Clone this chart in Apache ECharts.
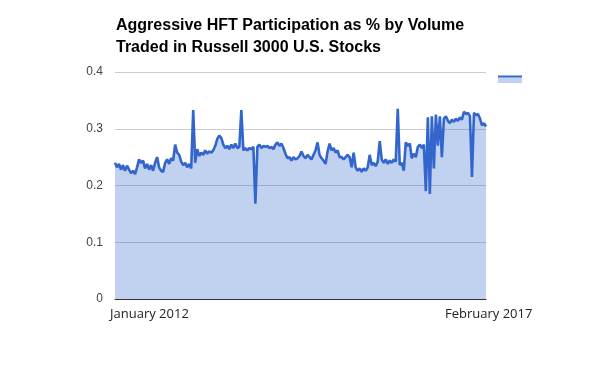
<!DOCTYPE html>
<html>
<head>
<meta charset="utf-8">
<script src="https://cdn.jsdelivr.net/npm/echarts@6/dist/echarts.min.js"></script>
<style>html,body{margin:0;padding:0;background:#fff}#c{width:600px;height:371px}</style>
</head>
<body>
<div id="c"></div>
<script>
var titleText = 'Aggressive HFT Participation as % by Volume\nTraded in Russell 3000 U.S. Stocks';
var xLabels = ['January 2012', 'February 2017'];
var yTicks = [0, 0.1, 0.2, 0.3, 0.4];
var participation = [
0.240,0.232,0.238,0.228,0.236,0.226,0.235,0.228,0.222,0.226,
0.220,0.232,0.246,0.240,0.244,0.230,0.238,0.228,0.236,0.226,
0.240,0.250,0.232,0.226,0.224,0.240,0.246,0.238,0.248,0.244,
0.272,0.258,0.254,0.242,0.236,0.240,0.232,0.238,0.230,0.333,
0.240,0.264,0.252,0.258,0.254,0.262,0.256,0.260,0.258,0.262,
0.270,0.282,0.288,0.284,0.272,0.266,0.270,0.264,0.272,0.266,
0.274,0.266,0.268,0.333,0.262,0.266,0.262,0.266,0.264,0.268,
0.168,0.268,0.272,0.266,0.270,0.268,0.270,0.266,0.268,0.264,
0.272,0.276,0.270,0.274,0.266,0.256,0.248,0.250,0.244,0.250,
0.246,0.248,0.252,0.260,0.252,0.248,0.254,0.250,0.246,0.254,
0.262,0.276,0.254,0.248,0.244,0.238,0.260,0.274,0.262,0.266,
0.258,0.262,0.250,0.250,0.246,0.250,0.254,0.250,0.232,0.258,
0.232,0.226,0.230,0.224,0.230,0.226,0.232,0.254,0.236,0.240,
0.234,0.242,0.278,0.246,0.240,0.246,0.238,0.244,0.240,0.246,
0.242,0.335,0.236,0.240,0.226,0.276,0.270,0.274,0.248,0.256,
0.250,0.268,0.272,0.266,0.272,0.190,0.320,0.185,0.322,0.230,
0.325,0.270,0.322,0.250,0.318,0.322,0.314,0.310,0.316,0.312,
0.318,0.314,0.320,0.316,0.330,0.326,0.328,0.322,0.215,0.328,
0.324,0.326,0.318,0.306,0.310,0.304
];
var categories = participation.map(function (v, i) { return i; });

var chart = echarts.init(document.getElementById('c'), null, {renderer: 'canvas'});
var option = {
  animation: false,
  backgroundColor: '#fff',
  title: {
    text: titleText,
    left: 116, top: 15, padding: 0,
    textStyle: {fontFamily: 'Liberation Sans, Arial, sans-serif', fontSize: 16, fontWeight: 'bold', color: '#000', lineHeight: 22}
  },
  grid: {left: 115, right: 114, top: 72, bottom: 72, containLabel: false},
  xAxis: {
    type: 'category', data: categories, boundaryGap: false,
    axisLine: {show: true, lineStyle: {color: '#333', width: 1}},
    axisTick: {show: false}, axisLabel: {show: false}, splitLine: {show: false}
  },
  yAxis: {
    type: 'value', min: yTicks[0], max: yTicks[yTicks.length - 1], interval: 0.1,
    axisLine: {show: false}, axisTick: {show: false},
    axisLabel: {margin: 12, color: '#444', fontFamily: 'Liberation Sans, Arial, sans-serif', fontSize: 12,
      formatter: function (v) { return String(Math.round(v * 10) / 10); }},
    splitLine: {lineStyle: {color: '#ccc', width: 1}}
  },
  series: [{
    type: 'line', data: participation, showSymbol: false, sampling: null,
    lineStyle: {color: '#3366cc', width: 2.6},
    itemStyle: {color: '#3366cc'},
    areaStyle: {color: '#3366cc', opacity: 0.3}
  }]
};
chart.setOption(option);

var p0 = chart.convertToPixel({gridIndex: 0}, [0, 0]);
var p1 = chart.convertToPixel({gridIndex: 0}, [participation.length - 1, 0]);
chart.setOption({
  graphic: [
    {type: 'text', left: p0[0] - 5, top: p0[1] + 9,
      style: {text: xLabels[0], fill: '#222', font: '13px "Open Sans", sans-serif'}},
    {type: 'text', left: p1[0] - 41, top: p1[1] + 9,
      style: {text: xLabels[1], fill: '#222', font: '13px "Open Sans", sans-serif'}},
    {type: 'rect', shape: {x: 498, y: 77.5, width: 24, height: 5.5}, style: {fill: '#c2d1f0'}},
    {type: 'rect', shape: {x: 498, y: 75.5, width: 24, height: 2}, style: {fill: '#3366cc'}}
  ]
});
</script>
</body>
</html>
